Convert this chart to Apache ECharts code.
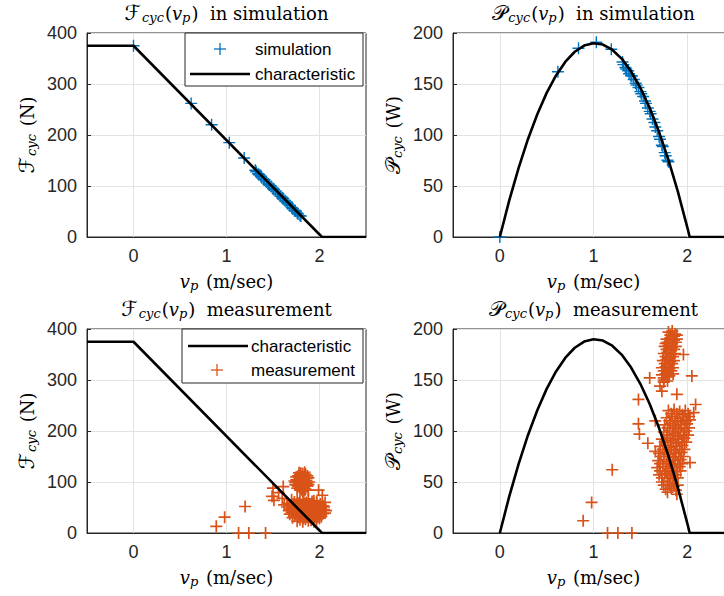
<!DOCTYPE html>
<html>
<head>
<meta charset="utf-8">
<script src="https://cdn.jsdelivr.net/npm/echarts@6/dist/echarts.min.js"></script>
<style>
html,body{margin:0;padding:0;background:#fff;}
#chart{width:724px;height:596px;}
</style>
</head>
<body>
<div id="chart"></div>
<script>
// ---------- data ----------
const xTickLabels = [0, 1, 2];
const forceTicks = [0, 100, 200, 300, 400];
const powerTicks = [0, 50, 100, 150, 200];

// characteristic curves
const charForceV = [-0.5, 0, 2.027, 2.5];
const charForce  = [375, 375, 0, 0];
const charPowerV = [0, 0.1, 0.2, 0.3, 0.4, 0.5, 0.6, 0.7, 0.8, 0.9, 1.0, 1.1, 1.2, 1.3, 1.4, 1.5, 1.6, 1.7, 1.8, 1.9, 2.0, 2.027, 2.5];
const charPower  = [0, 35.7, 67.6, 95.9, 120.4, 141.3, 158.4, 171.9, 181.6, 187.7, 190, 188.7, 183.6, 174.9, 162.4, 146.3, 126.4, 102.9, 75.6, 44.7, 10, 0, 0];

// simulation points
const simV = [0, 0.62, 0.84, 1.03, 1.19, 1.31, 1.32, 1.34, 1.35, 1.37, 1.38, 1.40, 1.41, 1.43, 1.45, 1.46, 1.48, 1.50, 1.51, 1.53, 1.55, 1.56, 1.58, 1.60, 1.61, 1.63, 1.65, 1.66, 1.68, 1.70, 1.71, 1.73, 1.74, 1.76, 1.77, 1.79, 1.80];
const simF = [375, 262, 220, 185, 155, 131, 128, 124, 122, 119, 116, 113, 112, 108, 104, 102, 99, 95, 93, 90, 86, 84, 80, 77, 75, 71, 68, 65, 62, 58, 56, 52, 51, 47, 45, 42, 41];
const simP = [0, 162, 185, 191, 184, 171.6, 169.0, 166.2, 164.7, 163.0, 160.1, 158.2, 157.9, 154.4, 150.8, 148.9, 146.5, 142.5, 140.4, 137.7, 133.3, 131.0, 126.4, 123.2, 120.8, 115.7, 112.2, 107.9, 104.2, 98.6, 95.8, 90.0, 88.7, 82.7, 79.7, 75.2, 73.8];

// measurement points [v, F]
const measForce = [
  [0.89,13],[0.98,31],[1.20,52],[1.13,0],[1.24,0],[1.42,0],[1.50,88],[1.49,72],[1.51,64],[1.56,79],[1.61,91],[1.60,68],[1.62,55],[1.99,84],[2.03,74],[2.06,60],
  [1.74,95],[1.75,104],[1.76,88],[1.77,112],[1.78,97],[1.79,84],[1.79,107],[1.80,117],[1.81,92],[1.82,101],[1.82,81],[1.83,110],[1.84,95],[1.85,86],[1.85,115],[1.86,103],[1.87,92],[1.88,108],[1.88,84],[1.76,100],[1.78,118],[1.83,88],[1.80,99],[1.86,97],[1.89,100],[1.73,102],[1.84,119],[1.81,110],[1.87,112],[1.77,92],
  [1.75,110],[1.79,114],[1.83,104],[1.87,99],[1.76,94],[1.80,88],[1.84,84],[1.78,102],[1.82,116],[1.86,108],[1.81,85],[1.85,92],[1.74,99],[1.88,95],[1.83,97],
  [1.70,65],[1.76,66],[1.83,64],[1.88,67],[1.94,63],
  [1.73,61],[1.79,61],[1.86,60],[1.92,62],[1.97,61],
  [1.66,58],[1.72,57],[1.78,59],[1.85,58],[1.90,56],[1.97,59],[2.01,57],
  [1.69,54],[1.75,55],[1.81,54],[1.88,53],[1.94,55],[2.00,54],[2.04,53],
  [1.65,51],[1.71,50],[1.75,52],[1.81,51],[1.87,50],[1.93,52],[1.99,50],[2.05,51],
  [1.68,47],[1.74,48],[1.81,47],[1.87,46],[1.93,48],[1.99,47],[2.05,46],
  [1.67,44],[1.72,45],[1.79,43],[1.84,45],[1.90,44],[1.96,43],[2.02,45],[2.07,44],
  [1.70,40],[1.77,41],[1.83,40],[1.89,39],[1.95,41],[2.01,40],[2.06,39],
  [1.68,37],[1.74,38],[1.80,36],[1.86,37],[1.92,38],[1.98,36],[2.04,38],
  [1.73,33],[1.80,34],[1.86,32],[1.92,33],[1.98,34],[2.02,32],
  [1.71,30],[1.77,31],[1.83,29],[1.89,31],[1.95,30],[2.00,29],
  [1.79,26],[1.85,27],[1.91,25],[1.97,26],
  [1.76,23],[1.82,22],[1.88,24],[1.94,22]
];
// measurement points [v, P]
const measPower = [
  [0.89,12],[0.98,30],[1.20,62],[1.15,0],[1.26,0],[1.41,0],[1.48,131],[1.48,107],[1.49,97],[1.58,88],[1.60,152],[1.66,110],[1.71,144],[1.73,139],[1.89,136],[1.96,175],[2.05,154],[2.09,126],[2.03,69],[1.79,40],[1.89,38],[1.66,80],[1.75,148],[2.07,118],
  [1.80,197],[1.84,198],[1.87,195],[1.82,194],[1.86,193],[1.89,194],
  [1.78,190],[1.82,191],[1.86,189],[1.89,190],[1.79,187],[1.84,186],[1.88,187],[1.77,186],
  [1.76,183],[1.80,184],[1.84,182],[1.88,183],[1.78,180],[1.82,179],[1.86,180],
  [1.75,176],[1.79,177],[1.83,175],[1.87,176],[1.77,173],[1.81,172],[1.85,173],
  [1.74,169],[1.78,170],[1.82,168],[1.86,169],[1.76,166],[1.80,165],[1.84,166],
  [1.73,162],[1.77,163],[1.81,161],[1.85,162],[1.75,159],[1.79,158],[1.83,159],
  [1.73,155],[1.77,156],[1.81,154],[1.75,152],[1.79,153],[1.85,156],
  [1.75,150],[1.79,149],
  [1.80,120],[1.86,121],[1.92,119],[1.98,120],
  [1.83,117],[1.89,117],[1.95,116],[2.01,117],
  [1.78,113],[1.84,114],[1.90,112],[1.96,113],[2.02,114],
  [1.81,110],[1.87,110],[1.93,109],[1.99,110],[2.03,111],
  [1.76,106],[1.82,107],[1.88,105],[1.94,106],[2.00,107],
  [1.79,103],[1.85,103],[1.91,102],[1.97,103],[2.02,103],
  [1.75,99],[1.81,100],[1.87,98],[1.93,99],[1.99,100],
  [1.78,96],[1.84,96],[1.90,95],[1.96,96],[2.01,96],
  [1.73,92],[1.79,93],[1.85,91],[1.91,92],[1.97,93],
  [1.76,89],[1.82,89],[1.88,88],[1.94,89],[1.99,89],
  [1.71,85],[1.77,86],[1.83,84],[1.89,85],[1.95,86],
  [1.74,82],[1.80,82],[1.86,81],[1.92,82],[1.97,82],
  [1.70,78],[1.76,79],[1.82,77],[1.88,78],[1.94,79],
  [1.72,75],[1.79,75],[1.85,74],[1.91,75],[1.96,75],
  [1.69,71],[1.75,72],[1.81,70],[1.87,71],[1.93,72],
  [1.71,68],[1.78,68],[1.84,67],[1.90,68],[1.95,68],
  [1.68,64],[1.74,65],[1.80,63],[1.86,64],[1.92,65],
  [1.71,61],[1.77,61],[1.83,60],[1.89,61],[1.93,61],
  [1.70,57],[1.76,58],[1.82,56],[1.88,57],
  [1.73,54],[1.79,54],[1.85,53],[1.90,54],
  [1.73,50],[1.79,51],[1.85,49],
  [1.75,47],[1.81,47],[1.86,46],[1.90,47],
  [1.77,43],[1.83,44],[1.88,42]
];

// ---------- styling ----------
const BLUE = '#0072BD', ORANGE = '#D95319', INK = '#262626';
const SERIF = "'DejaVu Serif', 'DejaVu Sans', serif";
const SANS = "'Liberation Sans', Arial, sans-serif";
const PLUS = 'path://M0,6L12,6M6,0L6,12';

const rich = {
  F: {fontFamily: SERIF, fontSize: 21, color: '#000', padding: [0, 1, 0, 0]},
  s: {fontFamily: SERIF, fontSize: 13, fontStyle: 'italic', color: '#000', padding: [9, 1, 0, 0]},
  i: {fontFamily: SERIF, fontSize: 18, fontStyle: 'italic', color: '#000'},
  n: {fontFamily: SERIF, fontSize: 18, color: '#000'}
};

const grids = [
  {left: 87, top: 33, right: 358, height: 204},
  {left: 453, top: 33, right: -10, height: 204},
  {left: 87, top: 329, right: 358, height: 204},
  {left: 453, top: 329, right: -10, height: 204}
].map(g => Object.assign(g, {show: true, borderColor: INK, borderWidth: 1, backgroundColor: '#fff', containLabel: false, outerBoundsMode: 'none'}));

function xAxis(i) {
  return {
    type: 'value', gridIndex: i, min: -0.5, max: 2.5, interval: 0.5,
    name: '{i|v}{s|p}  {n|(m/sec)}', nameLocation: 'middle', nameGap: 33,
    nameTextStyle: {rich},
    axisLine: {show: true, onZero: false, lineStyle: {color: INK, width: 1}},
    axisTick: {show: false},
    axisLabel: {
      color: INK, fontFamily: SANS, fontSize: 18, margin: 10,
      formatter: v => (xTickLabels.indexOf(v) >= 0 ? String(v) : '')
    },
    splitLine: {show: true, lineStyle: {color: ['rgba(0,0,0,0)', '#e3e3e3'], width: 1}}
  };
}
function yAxis(i, ticks, label) {
  return {
    type: 'value', gridIndex: i, min: ticks[0], max: ticks[ticks.length - 1],
    interval: ticks[1] - ticks[0],
    name: label, nameLocation: 'middle', nameRotate: 90, nameGap: 49,
    nameTextStyle: {rich},
    axisLine: {show: true, onZero: false, lineStyle: {color: INK, width: 1}},
    axisTick: {show: true, inside: true, length: 4, lineStyle: {color: INK}},
    axisLabel: {color: INK, fontFamily: SANS, fontSize: 18, margin: 10},
    splitLine: {show: true, lineStyle: {color: '#e3e3e3', width: 1}}
  };
}

const zip = (a, b) => a.map((v, k) => [v, b[k]]);

function charLine(i, vs, ys) {
  return {
    type: 'line', name: 'characteristic', xAxisIndex: i, yAxisIndex: i,
    data: zip(vs, ys), showSymbol: false, symbol: 'none',
    lineStyle: {color: '#000', width: 2.6}, silent: true, animation: false
  };
}
function plusScatter(i, name, data, color, lw) {
  return {
    type: 'scatter', name, xAxisIndex: i, yAxisIndex: i, data,
    symbol: PLUS, symbolSize: 12,
    itemStyle: {color: 'rgba(0,0,0,0)', borderColor: color, borderWidth: lw, opacity: 1},
    emphasis: {disabled: true}, silent: true, animation: false
  };
}

function title(x, y, text) {
  return {text, left: x, top: y, textAlign: 'center', padding: 0,
    textStyle: {rich, fontFamily: SERIF, fontSize: 18, fontWeight: 'normal', color: '#000'}};
}

// legend drawn with graphic elements
function legend(box, rows) {
  const els = [{type: 'rect', shape: box, style: {fill: '#fff', stroke: INK, lineWidth: 1}, z: 50}];
  rows.forEach(r => {
    if (r.kind === 'line') {
      els.push({type: 'line', shape: {x1: r.x1, y1: r.y, x2: r.x2, y2: r.y}, style: {stroke: '#000', lineWidth: 2.6}, z: 51});
    } else {
      els.push({type: 'line', shape: {x1: r.cx - 6, y1: r.y, x2: r.cx + 6, y2: r.y}, style: {stroke: r.color, lineWidth: 1.3}, z: 51});
      els.push({type: 'line', shape: {x1: r.cx, y1: r.y - 6, x2: r.cx, y2: r.y + 6}, style: {stroke: r.color, lineWidth: 1.3}, z: 51});
    }
    els.push({type: 'text', x: r.tx, y: r.y, style: {text: r.text, fontFamily: SANS, fontSize: 17, fill: '#000', verticalAlign: 'middle', align: 'left'}, z: 51});
  });
  return els;
}

const option = {
  backgroundColor: '#fff',
  animation: false,
  title: [
    title(226.5, 2, '{F|ℱ}{s|cyc}{n|(}{i|v}{s|p}{n|)  in simulation}'),
    title(593.5, 2, '{F|𝒫}{s|cyc}{n|(}{i|v}{s|p}{n|)  in simulation}'),
    title(226.5, 298, '{F|ℱ}{s|cyc}{n|(}{i|v}{s|p}{n|)  measurement}'),
    title(593.5, 298, '{F|𝒫}{s|cyc}{n|(}{i|v}{s|p}{n|)  measurement}')
  ],
  grid: grids,
  xAxis: [xAxis(0), xAxis(1), xAxis(2), xAxis(3)],
  yAxis: [
    yAxis(0, forceTicks, '{F|ℱ}{s|cyc}  {n|(N)}'),
    yAxis(1, powerTicks, '{F|𝒫}{s|cyc}  {n|(W)}'),
    yAxis(2, forceTicks, '{F|ℱ}{s|cyc}  {n|(N)}'),
    yAxis(3, powerTicks, '{F|𝒫}{s|cyc}  {n|(W)}')
  ],
  series: [
    plusScatter(0, 'simulation', zip(simV, simF), BLUE, 1.4),
    charLine(0, charForceV, charForce),
    plusScatter(1, 'simulation', zip(simV, simP), BLUE, 1.4),
    charLine(1, charPowerV, charPower),
    charLine(2, charForceV, charForce),
    plusScatter(2, 'measurement', measForce, ORANGE, 1.7),
    charLine(3, charPowerV, charPower),
    plusScatter(3, 'measurement', measPower, ORANGE, 1.7)
  ],
  graphic: [].concat(
    legend({x: 185, y: 33, width: 178, height: 53}, [
      {kind: 'plus', cx: 220, y: 49, color: BLUE, tx: 255, text: 'simulation'},
      {kind: 'line', x1: 190, x2: 250, y: 74, tx: 255, text: 'characteristic'}
    ]),
    legend({x: 182, y: 329, width: 181, height: 54}, [
      {kind: 'line', x1: 188, x2: 248, y: 346, tx: 251, text: 'characteristic'},
      {kind: 'plus', cx: 217, y: 370, color: ORANGE, tx: 251, text: 'measurement'}
    ])
  )
};

const chart = echarts.init(document.getElementById('chart'), null, {renderer: 'svg'});
chart.setOption(option);
</script>
</body>
</html>
